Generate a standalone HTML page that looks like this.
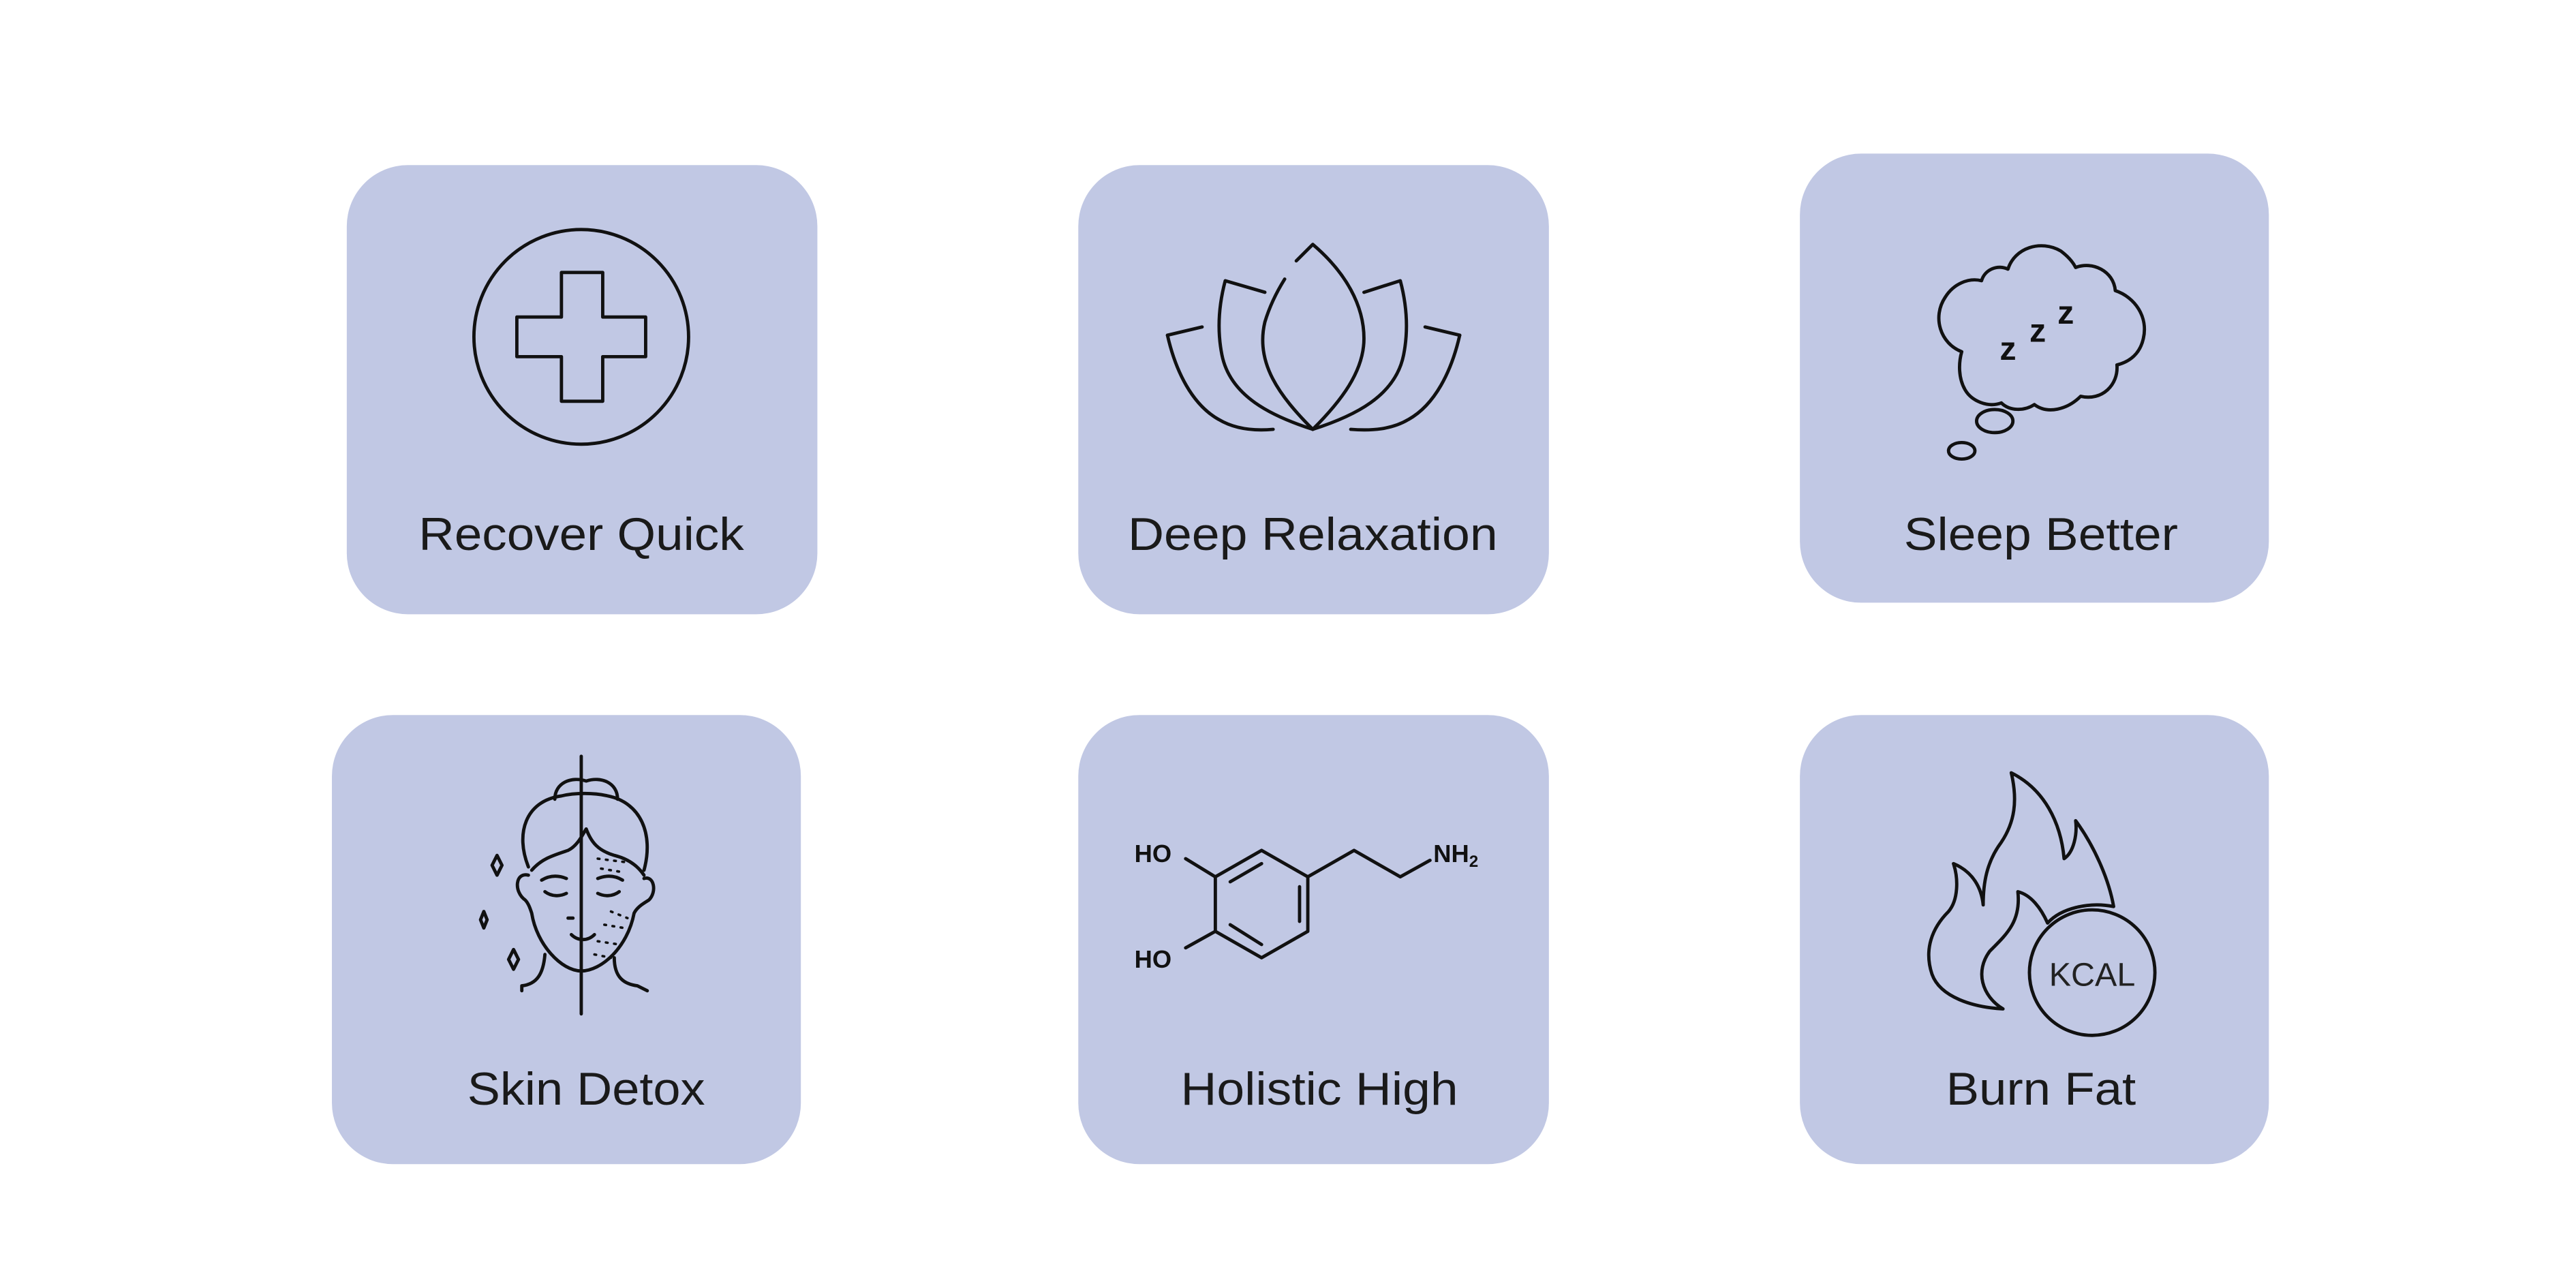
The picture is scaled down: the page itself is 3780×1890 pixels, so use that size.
<!DOCTYPE html>
<html><head><meta charset="utf-8"><style>html,body{margin:0;padding:0;background:#fff}svg{display:block}</style></head>
<body>
<svg width="3780" height="1890" viewBox="0 0 1560 780" xmlns="http://www.w3.org/2000/svg">
<rect width="1560" height="780" fill="#fff"/>
<g fill="#c1c8e4">
<rect x="210" y="100" width="285" height="272" rx="37"/>
<rect x="653" y="100" width="285" height="272" rx="37"/>
<rect x="1090" y="93" width="284" height="272" rx="37"/>
<rect x="201" y="433" width="284" height="272" rx="37"/>
<rect x="653" y="433" width="285" height="272" rx="37"/>
<rect x="1090" y="433" width="284" height="272" rx="37"/>
</g>
<g font-family="Liberation Sans, sans-serif" font-size="28" fill="#1a1a1a" text-anchor="middle">
<text x="352" y="333" textLength="197" lengthAdjust="spacingAndGlyphs">Recover Quick</text>
<text x="795" y="333" textLength="224" lengthAdjust="spacingAndGlyphs">Deep Relaxation</text>
<text x="1236" y="333" textLength="166" lengthAdjust="spacingAndGlyphs">Sleep Better</text>
<text x="355" y="669" textLength="144" lengthAdjust="spacingAndGlyphs">Skin Detox</text>
<text x="799" y="669" textLength="168" lengthAdjust="spacingAndGlyphs">Holistic High</text>
<text x="1236" y="669" textLength="115" lengthAdjust="spacingAndGlyphs">Burn Fat</text>
</g>
<g fill="none" stroke="#111" stroke-width="2" stroke-linecap="round" stroke-linejoin="round">
<circle cx="352" cy="204" r="65"/>
<path d="M340 165H365V192H391V216H365V243H340V216H313V192H340Z"/>
<path d="M795 260C775 240 760 220 766 195C769 185 773 177 778 169"/>
<path d="M785 158L795 148C815 165 826 185 826 205C826 225 812 243 795 260"/>
<path d="M795 260C770 252 745 240 740 215C737 200 738 185 742 170L766 177"/>
<path d="M795 260C820 252 845 240 850 215C853 200 852 185 848 170L826 177"/>
<path d="M707 203C712 225 722 245 738 254C748 260 760 261 771 260"/>
<path d="M707 203L728 198"/>
<path d="M884 203C879 225 869 245 853 254C843 260 831 261 818 260"/>
<path d="M884 203L863 198"/>
<path d="M1188 213C1175 208 1170 192 1178 180C1183 172 1192 168 1200 170C1202 163 1210 160 1216 163C1220 150 1236 145 1248 152C1252 155 1255 158 1257 162C1267 158 1280 164 1281 176C1293 180 1301 192 1298 205C1296 214 1290 219 1282 221C1283 233 1273 243 1260 240C1252 248 1240 251 1232 245C1226 249 1217 249 1212 244C1204 247 1194 243 1190 236C1186 229 1186 220 1188 213Z"/>
<ellipse cx="1208" cy="255" rx="11" ry="7"/>
<ellipse cx="1188" cy="273" rx="8" ry="5"/>
<path d="M352 458V614"/>
<path d="M336 484C336 474 346 470 355 473C364 470 374 474 374 484"/>
<path d="M320 525C312 505 318 485 340 482C348 480 360 480 368 482C388 486 396 505 390 527"/>
<path d="M322 527C328 520 335 518 344 515C350 512 353 505 355 502C358 510 362 515 372 518C380 520 386 524 390 530"/>
<path d="M320 530C312 528 311 540 318 545C320 547 321 550 322 553C325 572 340 588 352 588C364 588 380 574 384 553C386 549 390 547 393 545C398 540 396 530 390 532"/>
<path d="M330 578C329 590 325 596 316 597L316 600"/>
<path d="M372 580C372 592 378 596 386 597L392 600"/>
<path d="M328 533C333 530 338 530 343 532M362 532C367 530 372 530 377 533"/>
<path d="M330 540C334 543 339 543 343 541M362 541C366 543 371 543 375 540"/>
<path d="M346 566C350 570 356 570 360 566M344 556L347 556"/>
<path d="M301 518L304 524L301 530L298 524Z M293 552L295 557L293 562L291 557Z M311 575L314 581L311 587L308 581Z"/>
<g stroke-width="1.5" stroke-dasharray="1 4"><path d="M362 520L378 522M364 526L376 528M370 552L380 556M366 560L378 562M362 570L375 572M360 578L370 580"/></g>
<path d="M764 515L792 531L792 564L764 580L736 564L736 531Z"/>
<path d="M745 534L764 523M787 537V558M745 560L764 572"/>
<path d="M792 531L820 515L848 531L866 521"/>
<path d="M718 520L736 531M718 574L736 564"/>
<path d="M1213 611C1195 610 1175 604 1170 590C1165 575 1170 562 1180 552C1186 545 1186 532 1183 523C1195 528 1200 538 1201 548C1201 535 1203 522 1212 510C1220 498 1222 485 1218 468C1238 478 1248 498 1250 520C1256 516 1258 505 1257 497C1268 512 1277 532 1280 549C1265 546 1248 550 1240 559C1236 550 1230 542 1222 540C1224 558 1215 566 1205 576C1196 588 1200 603 1213 611Z"/>
<circle cx="1267" cy="589" r="38"/>
</g>
<g font-family="Liberation Sans, sans-serif" fill="#111">
<text x="687" y="522" font-size="15" font-weight="bold">HO</text>
<text x="687" y="586" font-size="15" font-weight="bold">HO</text>
<text x="868" y="522" font-size="15" font-weight="bold">NH<tspan font-size="10" dy="3">2</tspan></text>
<text x="1267" y="597" font-size="20" text-anchor="middle" fill="#222">KCAL</text>
<g font-size="20" font-weight="bold" fill="#111">
<text x="1211" y="218">z</text><text x="1229" y="207">z</text><text x="1246" y="196">z</text>
</g>
</g>
</svg>
</body></html>
